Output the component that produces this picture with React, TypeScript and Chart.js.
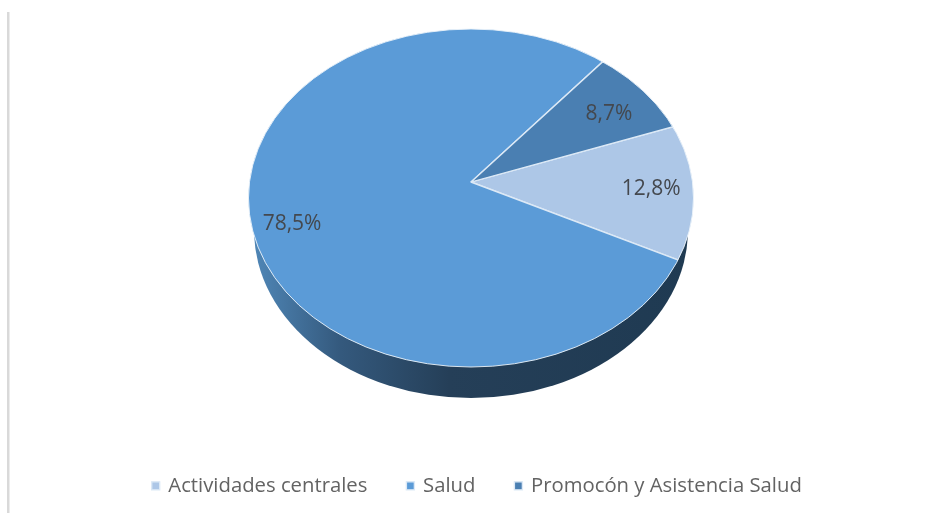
import React, { useEffect, useRef } from "react";
import { Chart, registerables } from "chart.js";

Chart.register(...registerables);

const categories = ["Actividades centrales", "Salud", "Promocón y Asistencia Salud"];
const shares = [12.8, 78.5, 8.7];
const sliceColors = ["#adc7e7", "#5b9bd7", "#4a7fb2"];

const FONT = '"Open Sans", sans-serif';
const APEX = { x: 471, y: 182 };
const FACE = { x: 471, y: 198, rx: 222.5, ry: 169 };
const SIDE = { x: 471, y: 230, rx: 217, ry: 168, top: 236 };
const RX = 222.5;
const RY_UP = 153;
const RY_DOWN = 185;
const OVERSCAN = 1.2;
const LABEL_FRACTION = [0.81, 0.83, 0.78];
const LABEL_DROP = 4;

const pie3d = {
  id: "pie3d",
  beforeDraw(chart: any) {
    const { ctx } = chart;
    ctx.save();
    ctx.fillStyle = "#d9d9d9";
    ctx.fillRect(7, 12, 2.5, 501);
    ctx.restore();
  },
  beforeDatasetsDraw(chart: any) {
    const { ctx } = chart;
    const meta = chart.getDatasetMeta(0);
    const first = meta.data[0];
    const R = first.outerRadius;

    // side wall
    ctx.save();
    ctx.beginPath();
    ctx.rect(0, SIDE.top, chart.width, chart.height);
    ctx.clip();
    const g = ctx.createLinearGradient(SIDE.x - SIDE.rx, 0, SIDE.x + SIDE.rx, 0);
    g.addColorStop(0, "#4f86b6");
    g.addColorStop(0.2, "#34597d");
    g.addColorStop(0.45, "#253f58");
    g.addColorStop(1, "#1f3a52");
    ctx.fillStyle = g;
    ctx.beginPath();
    ctx.ellipse(SIDE.x, SIDE.y, SIDE.rx, SIDE.ry, 0, 0, Math.PI * 2);
    ctx.fill();
    ctx.restore();

    // top face
    ctx.save();
    ctx.beginPath();
    ctx.ellipse(FACE.x, FACE.y, FACE.rx, FACE.ry, 0, 0, Math.PI * 2);
    ctx.clip();
    const halves = [
      { y0: 0, y1: APEX.y, ry: RY_UP },
      { y0: APEX.y, y1: chart.height, ry: RY_DOWN },
    ];
    for (const h of halves) {
      ctx.save();
      ctx.beginPath();
      ctx.rect(0, h.y0, chart.width, h.y1 - h.y0);
      ctx.clip();
      ctx.translate(APEX.x, APEX.y);
      ctx.scale((RX * OVERSCAN) / R, (h.ry * OVERSCAN) / R);
      ctx.translate(-first.x, -first.y);
      meta.controller.draw();
      ctx.restore();
    }
    ctx.restore();

    // rim
    ctx.save();
    ctx.strokeStyle = "rgba(235,243,250,0.9)";
    ctx.lineWidth = 1;
    ctx.beginPath();
    ctx.ellipse(FACE.x, FACE.y, FACE.rx, FACE.ry, 0, 0, Math.PI * 2);
    ctx.stroke();
    ctx.restore();

    // value labels
    ctx.save();
    ctx.font = `21px ${FONT}`;
    ctx.fillStyle = "#44484e";
    ctx.textAlign = "center";
    ctx.textBaseline = "middle";
    meta.data.forEach((el: any, i: number) => {
      const mid = (el.startAngle + el.endAngle) / 2;
      const s = Math.sin(mid);
      const x = APEX.x + Math.cos(mid) * RX * LABEL_FRACTION[i];
      const y = APEX.y + s * (s < 0 ? RY_UP : RY_DOWN) * LABEL_FRACTION[i] + LABEL_DROP;
      ctx.fillText(shares[i].toFixed(1).replace(".", ",") + "%", x, y);
    });
    ctx.restore();
    return false;
  },
};

export default function App() {
  const ref = useRef<HTMLCanvasElement | null>(null);
  useEffect(() => {
    const chart = new Chart(ref.current as HTMLCanvasElement, {
      type: "pie",
      data: {
        labels: categories,
        datasets: [
          {
            data: shares,
            backgroundColor: sliceColors,
            borderColor: "#dce9f6",
            borderWidth: 1.4,
          },
        ],
      },
      options: {
        responsive: false,
        animation: false,
        rotation: 68.3,
        layout: { padding: { left: 28, bottom: 7 } },
        plugins: {
          tooltip: { enabled: false },
          legend: {
            position: "bottom",
            labels: {
              usePointStyle: true,
              pointStyle: "rect",
              boxWidth: 5,
              boxHeight: 8,
              padding: 40.5,
              color: "#636363",
              font: { family: FONT, size: 20.3 },
            },
          },
        },
      },
      plugins: [pie3d as any],
    });
    return () => chart.destroy();
  }, []);
  return (
    <div style={{ position: "absolute", left: 0, top: 0, width: 927, height: 513, background: "#fff" }}>
      <canvas ref={ref} width={927} height={513} style={{ display: "block", filter: "blur(0.4px)" }} />
    </div>
  );
}
